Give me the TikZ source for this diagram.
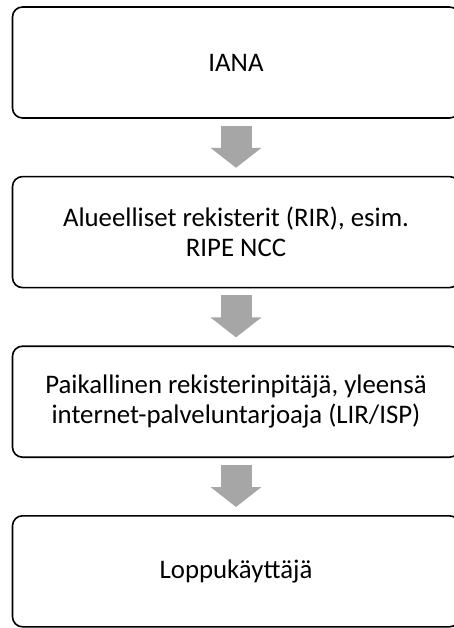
\documentclass[tikz,border=0pt]{standalone}
\usepackage{fontspec}
\setmainfont{Carlito}
\usetikzlibrary{positioning,arrows.meta}

\begin{document}
\begin{tikzpicture}[node distance=57pt,
			box/.style={draw, line width=1.6pt, rectangle, rounded corners=10pt, minimum width=447pt, minimum height=111pt, align=center, font=\fontsize{26.8}{30}\selectfont},
			arrow/.style={draw=black!35, line width=31pt, -{Triangle[length=20pt, width=50pt]}, shorten <=7pt, shorten >=8pt}]
			\useasboundingbox (0,0) rectangle (454pt,-628pt);
			\clip (0,0) rectangle (454pt,-628pt);
			\node[box] (iana) at (236pt,-62.5pt) {IANA};
			\node[box, below=of iana] (rir) {Alueelliset rekisterit (RIR), esim.\\RIPE NCC};
			\node[box, below=of rir] (lir) {Paikallinen rekisterinpitäjä, yleensä\\internet-palveluntarjoaja (LIR/ISP)};
			\node[box, below=of lir] (user) {Loppukäyttäjä};
			
			\draw[arrow] (iana) -- (rir);
			\draw[arrow] (rir) -- (lir);
			\draw[arrow] (lir) -- (user);
		\end{tikzpicture}
\end{document}
